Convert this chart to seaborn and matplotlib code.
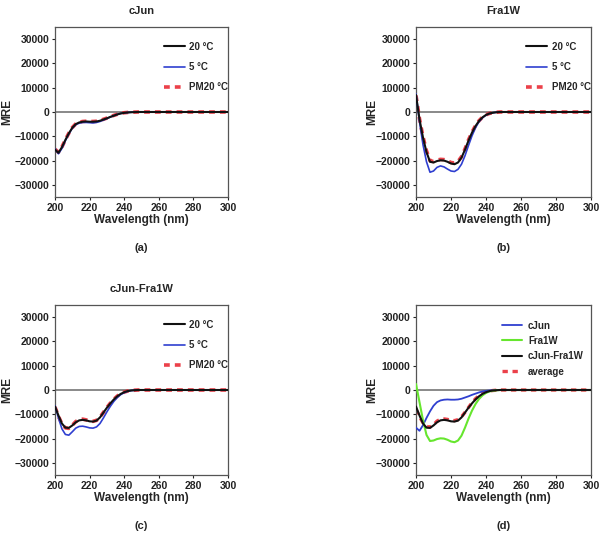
import numpy as np
import pandas as pd
import seaborn as sns
import matplotlib.pyplot as plt

# wavelength grid (nm): every 2 nm up to 250, then coarse to 300
wavelength = [200, 202, 204, 206, 208, 210, 212, 214, 216, 218, 220, 222, 224,
              226, 228, 230, 232, 234, 236, 238, 240, 242, 244, 246, 248, 250,
              260, 270, 280, 290, 300]

# (a) cJun
cjun_20 = [-15500, -16800, -14500, -11500, -8800, -6500, -5000, -4300, -4000, -3900,
           -4000, -4000, -3900, -3600, -3100, -2600, -2000, -1500, -1000, -600,
           -350, -200, -100, -50, 0, 0, 0, 0, 0, 0, 0]
cjun_5 = [-15200, -17200, -15000, -11800, -9000, -6700, -5200, -4600, -4300, -4300,
          -4400, -4500, -4300, -3900, -3300, -2700, -2100, -1500, -1000, -600,
          -350, -200, -100, -50, 0, 0, 0, 0, 0, 0, 0]
cjun_pm20 = [-15300, -16600, -14400, -11400, -8700, -6400, -4900, -4200, -3900, -3800,
             -3900, -3900, -3800, -3500, -3000, -2500, -1900, -1400, -950, -550,
             -300, -180, -90, -40, 0, 0, 0, 0, 0, 0, 0]

# (b) Fra1W
fra_20 = [7000, -3000, -10500, -16500, -20500, -20800, -20200, -19900, -20000, -20500,
          -21200, -21500, -20800, -18800, -15500, -11800, -8500, -5800, -3700, -2200,
          -1200, -600, -300, -100, 0, 0, 0, 0, 0, 0, 0]
fra_5 = [7500, -4000, -13500, -20500, -24800, -24300, -22800, -22200, -22600, -23500,
         -24300, -24500, -23600, -21500, -18000, -13800, -9800, -6500, -4000, -2400,
         -1300, -650, -300, -100, 0, 0, 0, 0, 0, 0, 0]
fra_pm20 = [6800, -2800, -10200, -16000, -20000, -20400, -19800, -19500, -19600, -20100,
            -20800, -21000, -20400, -18400, -15200, -11500, -8300, -5600, -3600, -2100,
            -1150, -580, -280, -100, 0, 0, 0, 0, 0, 0, 0]

# (c) cJun-Fra1W
mix_20 = [-6800, -10500, -13800, -15500, -15600, -14600, -13300, -12500, -12300, -12500,
          -12900, -13000, -12600, -11300, -9300, -7300, -5500, -3900, -2600, -1600,
          -900, -450, -200, -80, 0, 0, 0, 0, 0, 0, 0]
mix_5 = [-6500, -11500, -16000, -18300, -18600, -17200, -15700, -15000, -14900, -15200,
         -15600, -15700, -15200, -13800, -11500, -9000, -6700, -4700, -3100, -1900,
         -1100, -550, -250, -100, 0, 0, 0, 0, 0, 0, 0]
mix_pm20 = [-7000, -10800, -14000, -15600, -15800, -14500, -13000, -12100, -12000, -12300,
            -12700, -12900, -12500, -11200, -9200, -7200, -5400, -3800, -2500, -1550,
            -870, -430, -190, -80, 0, 0, 0, 0, 0, 0, 0]

# (d) comparison, Fra1W as recorded in that run and the cJun/Fra1W average
fra_d = [2500, -5000, -12500, -18500, -21000, -20800, -20200, -19900, -20000, -20500,
         -21200, -21500, -20800, -18800, -15500, -11800, -8500, -5800, -3700, -2200,
         -1200, -600, -300, -100, 0, 0, 0, 0, 0, 0, 0]
average = [-8000, -11000, -13500, -15000, -15300, -14300, -12800, -12000, -11900, -12100,
           -12500, -12600, -12200, -11000, -9200, -7200, -5200, -3600, -2300, -1400,
           -800, -400, -200, -80, 0, 0, 0, 0, 0, 0, 0]

temp_labels = ["20 °C", "5 °C", "PM20 °C"]
titles = ["cJun", "Fra1W", "cJun-Fra1W", ""]
panel_tags = ["(a)", "(b)", "(c)", "(d)"]

BLACK = "#111111"
BLUE = "#2f3fd0"
RED = "#e8202a"
GREEN = "#66e62e"

sns.set_style("ticks")
plt.rcParams["font.family"] = ["Liberation Sans", "DejaVu Sans"]
plt.rcParams["font.weight"] = "bold"

fig = plt.figure(figsize=(6.02, 5.36), dpi=100)
W, H = 602, 536
boxes = [(55, 27, 228, 197), (416, 27, 591, 197),
         (55, 305, 228, 475), (416, 305, 591, 475)]
ylabel_x = [13, 378, 13, 378]   # right edge of the rotated "MRE"
axes = []
for (x0, y0, x1, y1) in boxes:
    ax = fig.add_axes([x0 / W, 1 - y1 / H, (x1 - x0) / W, (y1 - y0) / H])
    axes.append(ax)

panel_data = [
    [(cjun_20, BLACK), (cjun_5, BLUE), (cjun_pm20, RED)],
    [(fra_20, BLACK), (fra_5, BLUE), (fra_pm20, RED)],
    [(mix_20, BLACK), (mix_5, BLUE), (mix_pm20, RED)],
]

for i, ax in enumerate(axes):
    ax.axhline(0, color="#808080", lw=1.3, zorder=1)
    if i < 3:
        s20, s5, spm = panel_data[i]
        # red dashed under the black line
        sns.lineplot(x=wavelength, y=spm[0], ax=ax, color=RED, lw=2.6, alpha=0.85,
                     label=temp_labels[2], zorder=2)
        ax.lines[-1].set_dashes((1.6, 1.4))
        sns.lineplot(x=wavelength, y=s5[0], ax=ax, color=BLUE, lw=1.2,
                     label=temp_labels[1], zorder=3)
        sns.lineplot(x=wavelength, y=s20[0], ax=ax, color=BLACK, lw=1.5,
                     label=temp_labels[0], zorder=4)
        handles, labels = ax.get_legend_handles_labels()
        order = [2, 1, 0]
        ax.legend([handles[k] for k in order], [labels[k] for k in order],
                  loc="upper left", bbox_to_anchor=(0.58, 0.965), frameon=False,
                  labelspacing=1.05, handlelength=2.1, handletextpad=0.5,
                  prop={"weight": "bold", "size": 7})
    else:
        sns.lineplot(x=wavelength, y=cjun_20, ax=ax, color=BLUE, lw=1.3, label="cJun", zorder=3)
        sns.lineplot(x=wavelength, y=fra_d, ax=ax, color=GREEN, lw=1.5, label="Fra1W", zorder=3)
        sns.lineplot(x=wavelength, y=average, ax=ax, color=RED, lw=2.4, alpha=0.85,
                     label="average", zorder=2)
        ax.lines[-1].set_dashes((1.6, 1.4))
        sns.lineplot(x=wavelength, y=mix_20, ax=ax, color=BLACK, lw=1.5,
                     label="cJun-Fra1W", zorder=4)
        handles, labels = ax.get_legend_handles_labels()
        order = [0, 1, 3, 2]
        ax.legend([handles[k] for k in order], [labels[k] for k in order],
                  loc="upper left", bbox_to_anchor=(0.44, 0.96), frameon=False,
                  labelspacing=0.55, handlelength=2.1, handletextpad=0.6,
                  prop={"weight": "bold", "size": 7})

    ax.set_xlim(200, 300)
    ax.set_ylim(-35000, 35000)
    ax.set_xticks(np.arange(200, 301, 20))
    ax.set_yticks(np.arange(-30000, 30001, 10000))
    ax.tick_params(labelsize=7.5, length=2.5, width=0.8, pad=1.5, colors="#222222")
    for lab in ax.get_xticklabels() + ax.get_yticklabels():
        lab.set_fontweight("bold")
    for sp in ax.spines.values():
        sp.set_visible(True)
        sp.set_color("#555555")
        sp.set_linewidth(0.9)
    x0, y0, x1, y1 = boxes[i]
    ax.set_xlabel("Wavelength (nm)", fontsize=8.5, fontweight="bold")
    ax.xaxis.set_label_coords(0.5, -17 / (y1 - y0))
    ax.set_ylabel("MRE", fontsize=8.5, fontweight="bold")
    ax.yaxis.set_label_coords((ylabel_x[i] - x0) / (x1 - x0), 0.5)
    if titles[i]:
        ax.set_title(titles[i], fontsize=8, fontweight="bold", pad=9)

    fig.text((x0 + x1) / 2 / W, 1 - (y1 + 51) / H, panel_tags[i],
             ha="center", va="center", fontsize=8, fontweight="bold")

fig.savefig("out.png", dpi=100)
